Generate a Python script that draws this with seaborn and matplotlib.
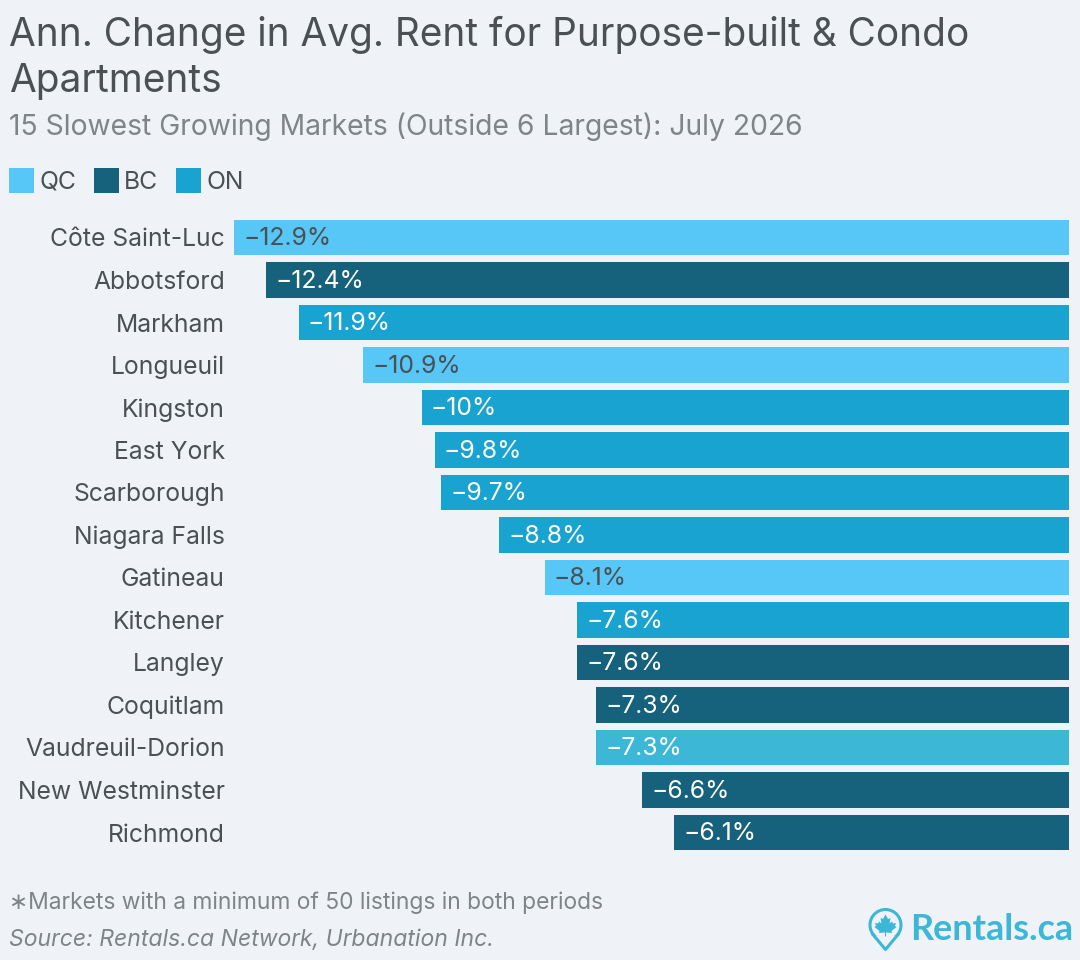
import matplotlib
matplotlib.use('Agg')
import matplotlib.pyplot as plt
import seaborn as sns
from matplotlib.patches import Patch, Circle, Polygon

# Data
markets = ["Côte Saint-Luc", "Abbotsford", "Markham", "Longueuil", "Kingston", "East York",
           "Scarborough", "Niagara Falls", "Gatineau", "Kitchener", "Langley", "Coquitlam",
           "Vaudreuil-Dorion", "New Westminster", "Richmond"]
changes = [-12.9, -12.4, -11.9, -10.9, -10, -9.8, -9.7, -8.8, -8.1, -7.6, -7.6, -7.3, -7.3, -6.6, -6.1]
provinces = ["QC", "BC", "ON", "QC", "ON", "ON", "ON", "ON", "QC", "ON", "BC", "BC", "QC*", "BC", "BC"]
legend_names = ["QC", "BC", "ON"]

# Colours
BG = '#eff3f8'
TEXT = '#4b5055'
GREY = '#7f8488'
LOGO = '#3cb7d6'
prov_colors = {"QC": '#57c7f8', "BC": '#16617c', "ON": '#19a3d1', "QC*": LOGO}
label_colors = {"QC": TEXT, "BC": 'white', "ON": 'white', "QC*": 'white'}

sns.set_theme(style='white')
plt.rcParams['font.family'] = ['Inter', 'DejaVu Sans']

W, H = 1080, 960
fig = plt.figure(figsize=(W / 100, H / 100), dpi=100, facecolor=BG)
ax = fig.add_axes([234 / W, 1 - 853.75 / H, 835 / W, 637.5 / H], facecolor=BG)

sns.barplot(x=changes, y=markets, hue=markets, palette=[prov_colors[p] for p in provinces],
            width=0.83, legend=False, saturation=1, linewidth=0, ax=ax)
ax.set_xlim(-12.9, 0)
ax.set_ylim(14.5, -0.5)
sns.despine(ax=ax, left=True, bottom=True)
ax.set_xticks([])
ax.tick_params(axis='y', length=0, pad=6.6, labelsize=17.8, labelcolor=TEXT)

# Value labels, just inside the left end of each bar
for i, (val, prov) in enumerate(zip(changes, provinces)):
    ax.annotate(f"\u2212{abs(val):g}%", xy=(val, i), xytext=(6.6, -1), textcoords='offset points',
                ha='left', va='center', fontsize=17.8, color=label_colors[prov])

# Titles
fig.text(9 / W, 1 - 35 / H, "Ann. Change in Avg. Rent for Purpose-built & Condo", fontsize=27.95,
         color=TEXT, va='center', ha='left')
fig.text(9 / W, 1 - 81 / H, "Apartments", fontsize=27.95, color=TEXT, va='center', ha='left')
fig.text(9 / W, 1 - 127 / H, "15 Slowest Growing Markets (Outside 6 Largest): July 2026", fontsize=20.35,
         color=GREY, va='center', ha='left')

# Legend
handles = [Patch(facecolor=prov_colors[n], edgecolor='none', label=n) for n in legend_names]
fig.legend(handles=handles, loc='upper left', bbox_to_anchor=(9 / W, 1 - 168 / H), frameon=False,
           ncol=3, fontsize=17.8, labelcolor=TEXT, handlelength=1.0, handleheight=1.18,
           handletextpad=0.22, columnspacing=0.72, borderpad=0, borderaxespad=0)

# Footnotes
fig.text(9 / W, 1 - 903 / H, "\u2217Markets with a minimum of 50 listings in both periods", fontsize=16.45,
         color=GREY, va='center', ha='left')
fig.text(9 / W, 1 - 940 / H, "Source: Rentals.ca Network, Urbanation Inc.", fontsize=16.55,
         color=GREY, style='italic', va='center', ha='left')

# Logo drawn in pixel coordinates
logo = fig.add_axes([0, 0, 1, 1], facecolor='none')
logo.set_xlim(0, W)
logo.set_ylim(H, 0)
logo.axis('off')
logo.add_patch(Circle((885.5, 925), 15.5, facecolor=BG, edgecolor=LOGO, lw=2.2))
logo.add_patch(Polygon([(871, 936), (885.5, 950), (900, 936)], closed=True, facecolor=BG, edgecolor='none'))
logo.plot([872.5, 885.5, 898.5], [934, 949.5, 934], color=LOGO, lw=2.2, solid_joinstyle='round')
logo.add_patch(Polygon([(885.5, 914.5), (888, 919), (890.5, 918), (889.5, 923.5), (892, 921.5), (893, 923.5),
                        (896, 923), (895, 926), (896.5, 927), (891.5, 931), (892, 933), (886, 932.5),
                        (886, 936.5), (885, 936.5), (885, 932.5), (879, 933), (879.5, 931), (874.5, 927),
                        (876, 926), (875, 923), (878, 923.5), (879, 921.5), (881.5, 923.5), (880.5, 918),
                        (883, 919)], closed=True, facecolor=LOGO, edgecolor='none'))
logo.text(910, 930, "Rentals.ca", fontsize=25.9, color=LOGO, fontweight='bold', family='Lato',
          ha='left', va='center')

plt.savefig('out.png', dpi=100, facecolor=BG)
